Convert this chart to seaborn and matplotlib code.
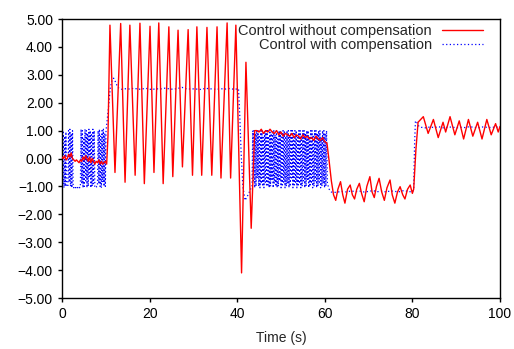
import numpy as np
import pandas as pd
import matplotlib
matplotlib.use('Agg')
import matplotlib.pyplot as plt
import seaborn as sns

# ---- red: control without compensation ----
red_noise0 = [0.05, 0.0, 0.1, -0.05, 0.0, 0.15, 0.05, 0.2, 0.0, -0.05, -0.1, -0.05,
              -0.1, -0.15, -0.05, -0.1, 0.05, -0.05, 0.1, 0.0, -0.1, 0.05, -0.15, 0.0,
              -0.1, -0.2, -0.1, -0.15, -0.05, -0.2, -0.1, -0.2, -0.15, -0.1, -0.2]
red_osc_t = [10.5, 10.95, 12.1, 13.4, 14.4, 15.5, 16.7, 17.8, 18.8, 20.1, 21.0, 22.1,
             23.1, 24.4, 25.3, 26.5, 27.5, 28.8, 29.8, 30.8, 31.9, 33.1, 34.2, 35.4,
             36.3, 37.7, 38.5, 39.7, 41.0, 42.0, 43.2, 44.0]
red_osc_v = [0.8, 4.78, -0.5, 4.84, -0.85, 4.78, -0.6, 4.85, -0.9, 4.74, -0.5, 4.86,
             -0.9, 4.72, -0.65, 4.6, -0.3, 4.62, -0.6, 4.72, -0.6, 4.7, -0.6, 4.72,
             -0.7, 4.86, -0.7, 4.78, -4.1, 3.45, -2.5, 1.0]
red_mid = [1.0, 0.95, 1.05, 0.9, 1.0, 0.95, 1.05, 0.95, 0.9, 1.0, 0.85, 0.95, 0.8,
           0.9, 0.85, 0.8, 0.9, 0.75, 0.85, 0.8, 0.7, 0.85, 0.75, 0.8, 0.7, 0.75,
           0.65, 0.8, 0.7, 0.65, 0.75, 0.6, 0.55]
red_low_t = [61.0, 61.5, 62.0, 62.5, 63.0, 63.6, 64.1, 64.6, 65.2, 65.8, 66.3, 66.8,
             67.3, 67.9, 68.4, 69.0, 69.6, 70.3, 70.8, 71.3, 71.8, 72.4, 73.0, 73.6,
             74.2, 74.9, 75.4, 76.0, 76.6, 77.2, 77.8, 78.3, 78.9, 79.5, 80.0]
red_low_v = [-0.1, -0.8, -1.3, -1.5, -1.1, -0.83, -1.3, -1.6, -1.1, -0.95, -1.3, -1.45,
             -1.1, -0.89, -1.25, -1.55, -1.0, -0.65, -1.2, -1.4, -1.0, -0.71, -1.2, -1.5,
             -1.05, -0.77, -1.3, -1.6, -1.2, -1.01, -1.3, -1.45, -1.1, -0.95, -1.25]
red_end_t = [80.3, 80.8, 81.3, 82.5, 83.6, 84.8, 85.9, 87.0, 87.6, 88.6, 89.7, 90.7,
             91.7, 92.8, 93.8, 94.9, 95.9, 97.0, 98.0, 99.0, 99.6, 100.0]
red_end_v = [-1.1, 0.3, 1.3, 1.5, 0.9, 1.4, 0.75, 1.3, 0.95, 1.5, 0.85, 1.35,
             0.7, 1.4, 0.8, 1.3, 0.7, 1.4, 0.85, 1.25, 0.95, 1.15]

# ---- blue: control with compensation ----
blue_chat0 = [1.05, -0.9, 1.0, -1.05, 0.8, -1.0, 0.95,
              -1.0, -1.0, -1.0,
              1.0, -0.85, 1.05, -1.0, 0.9, -1.05, 1.0,
              -1.0, -1.05, -1.0, -1.0, -1.05, -1.0, -1.0, -1.05, -1.0, -1.0, -1.05, -1.0,
              1.05, -0.9, 1.0, -1.05, 0.75, -1.0, 1.05, -0.8, 1.0, -1.05, 0.9, -1.0,
              1.05, -0.7, 1.0, -1.05, 0.85, -1.0, 1.05, -0.9, 1.0,
              -1.0, -1.05, -1.05, -1.0, -1.0,
              1.0, -0.9, 1.05, -1.0, 0.8, -1.05, 1.0, -0.85, 1.05, -1.0, 0.9, -1.0, 1.0]
blue_rise_t = [10.2, 10.6, 11.0, 11.4, 11.8, 12.2, 12.6, 13.0]
blue_rise_v = [1.2, 1.8, 2.5, 2.8, 2.88, 2.75, 2.6, 2.52]
blue_plat = [2.48, 2.5, 2.49, 2.52, 2.48, 2.5, 2.51, 2.47, 2.5, 2.49, 2.52, 2.5, 2.48,
             2.51, 2.55, 2.5, 2.49, 2.5, 2.47, 2.5, 2.51, 2.49, 2.48, 2.5, 2.49, 2.51,
             2.48, 2.5]
blue_dip_t = [40.6, 40.9, 41.3, 41.8, 42.5, 43.2]
blue_dip_v = [1.5, 0.2, -1.0, -1.5, -1.3, -1.05]
blue_chat1 = [-1.0, 1.0, -0.8, 1.0, -1.05, 0.9, -1.0, 1.0, -0.7, 1.0,
              -1.0, 0.85, -1.05, 1.0, -0.9, 1.0, -1.0, 0.75, -1.05, 1.0,
              -0.85, 1.0, -1.0, 1.0, -0.95, 0.8, -1.05, 1.0, -1.0, 0.9,
              -0.75, 1.0, -1.05, 1.0, -0.9, 0.85, -1.0, 1.0, -1.05, 0.7,
              -1.0, 1.0, -0.8, 1.0, -1.05, 0.95, -1.0, 1.0, -0.85, 1.0,
              -1.05, 0.8, -1.0, 1.0, -0.9, 1.0, -1.05, 0.85, -1.0, 1.0,
              -0.7, 1.0, -1.05, 0.9, -1.0, 1.0, -0.85, 1.0, -1.05, 0.75,
              -1.0, 1.0, -0.9, 1.0, -1.05, 0.85, -1.0, 1.0, -0.8, 1.0,
              -1.05, 0.9, -1.0, 1.0, -0.75, 1.0, -1.05, 0.8, -1.0, 1.0,
              -0.9, 1.0, -1.05, 0.85, -1.0, 1.0, -0.8, 1.0, -1.05, 0.9,
              -1.0, 1.0, -0.85, 1.0, -1.05, 0.75, -1.0, 1.0, -0.9, 1.0,
              -1.05, 0.9, -1.0, 1.0]
blue_drop_t = [60.6, 61.0, 61.5, 62.0]
blue_drop_v = [-0.9, -1.1, -1.2, -1.22]
blue_low = [-1.2, -1.18, -1.2, -1.16, -1.19, -1.17, -1.2, -1.18, -1.15, -1.19,
            -1.17, -1.2, -1.16, -1.18, -1.19, -1.15, -1.18, -1.2]
blue_up_t = [80.3, 80.5, 80.7, 81.0, 81.5]
blue_up_v = [-1.1, 0.5, 1.35, 1.3, 1.15]
blue_high = [1.12, 1.1, 1.13, 1.11, 1.14, 1.1, 1.12, 1.13, 1.1, 1.12, 1.11, 1.14,
             1.12, 1.1, 1.13, 1.12, 1.11, 1.13, 1.12]

red_t = np.concatenate([np.linspace(0, 10.2, len(red_noise0)), red_osc_t,
                        np.linspace(44.5, 60.5, len(red_mid)), red_low_t, red_end_t])
red_v = np.concatenate([red_noise0, red_osc_v, red_mid, red_low_v, red_end_v])
blue_t = np.concatenate([np.linspace(0, 10.05, len(blue_chat0)), blue_rise_t,
                         np.linspace(13.5, 40.3, len(blue_plat)), blue_dip_t,
                         np.linspace(43.4, 60.4, len(blue_chat1)), blue_drop_t,
                         np.linspace(63, 80, len(blue_low)), blue_up_t,
                         np.linspace(82, 100, len(blue_high))])
blue_v = np.concatenate([blue_chat0, blue_rise_v, blue_plat, blue_dip_v, blue_chat1,
                         blue_drop_v, blue_low, blue_up_v, blue_high])

df_red = pd.DataFrame({'t': red_t, 'v': red_v})
df_blue = pd.DataFrame({'t': blue_t, 'v': blue_v})

sns.set_style('ticks')
plt.rcParams['font.family'] = ['Liberation Sans', 'DejaVu Sans']
plt.rcParams['font.size'] = 10

fig = plt.figure(figsize=(5.14, 3.49), dpi=100)
ax = fig.add_axes([0.1206, 0.1461, 0.8521, 0.7994])

sns.lineplot(data=df_red, x='t', y='v', ax=ax, color='#ff0000', linewidth=1.0,
             estimator=None, sort=False, label='Control without compensation', zorder=3)
sns.lineplot(data=df_blue, x='t', y='v', ax=ax, color='#0000ff', linewidth=0.9,
             linestyle=(0, (1, 1.9)), estimator=None, sort=False,
             label='Control with compensation', zorder=2)

ax.set_xlim(0, 100)
ax.set_ylim(-5, 5)
ax.set_xticks([0, 20, 40, 60, 80, 100])
ax.set_yticks(np.arange(-5, 6, 1))
ax.yaxis.set_major_formatter(matplotlib.ticker.StrMethodFormatter('{x:.2f}'))
ax.tick_params(direction='out', length=3, width=1, labelsize=10, colors='black')
for s in ax.spines.values():
    s.set_linewidth(1.0)
    s.set_color('black')
ax.set_xlabel('Time (s)', fontsize=10, labelpad=7)
ax.set_ylabel('')

leg = ax.legend(loc='upper right', bbox_to_anchor=(483 / 514, 1 - 24 / 349),
                bbox_transform=fig.transFigure, frameon=False, markerfirst=False,
                handlelength=2.8, handletextpad=0.7, labelspacing=0.0,
                borderpad=0, borderaxespad=0, fontsize=10.5)

fig.savefig('out.png', dpi=100)
